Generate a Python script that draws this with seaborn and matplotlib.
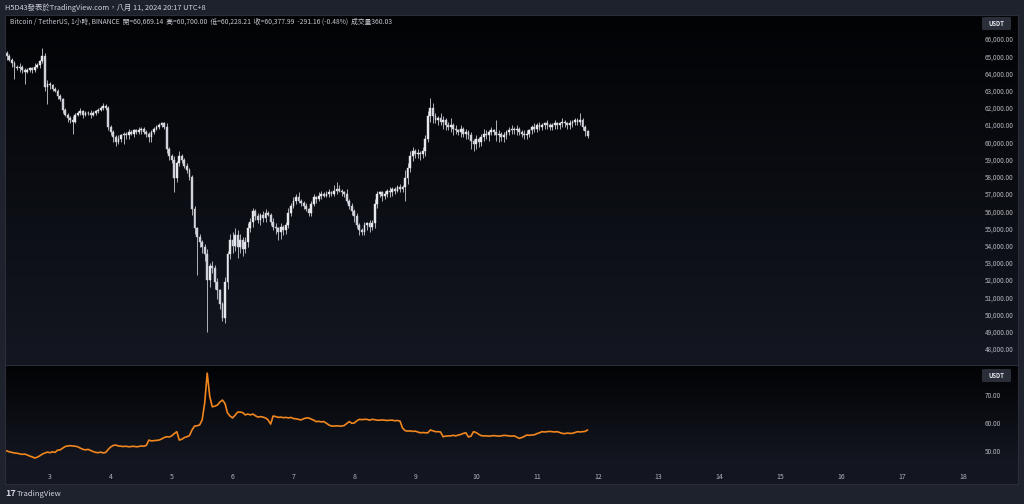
import numpy as np
import pandas as pd
import matplotlib
matplotlib.use("Agg")
import matplotlib.pyplot as plt
import matplotlib.dates as mdates
from matplotlib.patches import FancyBboxPatch, Rectangle
import seaborn as sns

# ---------------- data ----------------
start_time = "2024-08-02 06:00"
first_open_k = 65.3
# hourly closes, in thousands of USDT
close_k = [
    65.2, 65.0, 64.8, 64.6, 64.4, 64.3, 64.4, 64.2, 64.1, 64.2,
    64.3, 64.2, 64.4, 64.5, 64.7, 65.0, 63.2, 63.4, 63.3, 63.1,
    63.0, 62.7, 62.5, 61.9, 61.6, 61.4, 61.3, 61.2, 61.6, 61.7,
    61.8, 61.6, 61.7, 61.7, 61.6, 61.7, 61.8, 61.9, 62.0, 62.1,
    62.0, 60.9, 60.6, 60.3, 60.0, 60.2, 60.4, 60.5, 60.4, 60.6,
    60.5, 60.7, 60.6, 60.7, 60.8, 60.6, 60.5, 60.3, 60.6, 60.8,
    60.9, 61.0, 61.1, 60.9, 59.6, 59.2, 59.0, 57.9, 58.8, 59.2,
    59.0, 58.6, 58.4, 58.0, 56.1, 55.0, 54.5, 54.2, 53.9, 53.5,
    52.0, 52.8, 52.7, 51.9, 51.4, 50.6, 49.8, 51.9, 53.5, 54.3,
    54.0, 54.6, 53.9, 54.3, 53.8, 54.2, 55.0, 55.4, 56.0, 55.7,
    55.5, 55.8, 55.6, 55.9, 55.8, 55.4, 55.1, 55.0, 54.8, 55.1,
    54.9, 55.2, 55.9, 56.3, 56.6, 56.8, 56.6, 56.5, 56.3, 56.1,
    55.9, 56.4, 56.8, 56.7, 56.9, 57.0, 56.9, 57.0, 57.1, 57.0,
    57.2, 57.3, 57.2, 57.1, 57.0, 56.6, 56.3, 56.0, 55.7, 55.2,
    54.9, 54.8, 55.2, 55.3, 55.1, 55.3, 56.4, 57.0, 57.1, 56.9,
    57.0, 57.2, 57.1, 57.3, 57.2, 57.4, 57.3, 57.4, 57.9, 58.5,
    59.2, 59.5, 59.3, 59.4, 59.3, 59.5, 60.2, 61.5, 62.0, 61.5,
    61.3, 61.4, 61.2, 61.3, 61.0, 60.9, 61.0, 60.8, 60.7, 60.6,
    60.8, 60.5, 60.6, 60.4, 60.1, 59.9, 60.2, 60.0, 60.3, 60.5,
    60.4, 60.6, 60.7, 60.6, 60.4, 60.5, 60.3, 60.4, 60.6, 60.7,
    60.8, 60.7, 60.8, 60.6, 60.5, 60.4, 60.5, 60.7, 60.9, 60.8,
    61.0, 60.9, 61.0, 61.1, 61.0, 60.9, 61.0, 61.1, 61.0, 61.1,
    61.2, 61.1, 61.0, 61.1, 61.2, 61.3, 61.2, 61.3, 60.9, 60.66914,
    60.37799,
]
# wick lengths above / below the candle body, in hundreds of USDT
wick_up_h = [
    2, 1, 1, 1, 1, 1, 2, 1, 1, 1,
    1, 1, 2, 1, 1, 5, 2, 2, 1, 1,
    1, 1, 1, 1, 1, 1, 1, 2, 1, 1,
    2, 1, 1, 1, 2, 1, 1, 1, 1, 2,
    1, 1, 1, 1, 1, 2, 1, 1, 1, 2,
    1, 1, 1, 2, 1, 1, 1, 1, 1, 1,
    1, 1, 1, 1, 2, 1, 1, 2, 1, 3,
    1, 1, 2, 1, 1, 2, 1, 2, 1, 2,
    3, 2, 3, 2, 2, 1, 1, 3, 2, 4,
    5, 4, 3, 4, 2, 3, 3, 2, 2, 1,
    2, 1, 2, 2, 1, 1, 2, 2, 1, 2,
    1, 2, 3, 2, 2, 2, 3, 1, 1, 2,
    1, 2, 2, 1, 2, 2, 1, 2, 2, 1,
    3, 4, 2, 1, 1, 3, 1, 2, 1, 2,
    1, 1, 2, 1, 2, 2, 3, 2, 1, 1,
    2, 1, 2, 1, 1, 1, 2, 1, 5, 3,
    3, 2, 1, 2, 1, 2, 2, 3, 6, 3,
    2, 1, 3, 2, 1, 2, 4, 1, 2, 1,
    2, 1, 2, 1, 2, 1, 2, 1, 2, 3,
    2, 1, 2, 1, 7, 2, 1, 2, 1, 2,
    2, 1, 2, 1, 1, 2, 2, 1, 1, 2,
    1, 2, 1, 1, 2, 1, 1, 2, 1, 1,
    2, 1, 1, 2, 1, 1, 1, 4, 1, 1,
    0.31,
]
wick_dn_h = [
    1, 2, 1, 2, 7, 1, 2, 2, 7, 1,
    1, 2, 1, 1, 2, 1, 2, 10, 2, 1,
    1, 2, 1, 2, 1, 2, 2, 7, 1, 1,
    1, 2, 1, 1, 2, 1, 1, 1, 1, 1,
    1, 2, 2, 3, 2, 1, 2, 5, 2, 2,
    1, 2, 1, 1, 2, 1, 2, 3, 3, 1,
    1, 1, 1, 1, 2, 2, 2, 8, 2, 2,
    2, 1, 2, 2, 3, 3, 22, 3, 3, 4,
    30, 4, 3, 4, 5, 3, 2, 3, 4, 3,
    4, 3, 6, 3, 4, 2, 3, 2, 3, 2,
    2, 3, 2, 2, 1, 2, 2, 3, 5, 4,
    3, 2, 2, 2, 1, 2, 1, 2, 2, 1,
    2, 2, 1, 2, 1, 2, 1, 1, 2, 1,
    1, 2, 1, 2, 2, 1, 2, 2, 3, 2,
    3, 2, 2, 3, 3, 2, 3, 2, 2, 3,
    2, 2, 3, 2, 2, 1, 2, 2, 8, 3,
    2, 3, 2, 2, 3, 2, 3, 2, 3, 4,
    2, 3, 2, 4, 3, 2, 3, 4, 2, 2,
    3, 2, 3, 2, 5, 4, 3, 3, 2, 2,
    2, 3, 2, 2, 3, 4, 2, 3, 2, 2,
    2, 2, 3, 2, 2, 2, 2, 2, 2, 2,
    2, 2, 2, 2, 2, 2, 2, 2, 2, 2,
    2, 2, 2, 2, 2, 2, 2, 2, 2, 3,
    1.5,
]
# lower pane indicator (orange line)
indicator = [
    50.4, 50.0, 49.7, 49.5, 49.3, 49.2, 49.0, 48.8, 48.9, 48.6,
    48.2, 47.9, 47.5, 47.8, 48.3, 48.9, 49.3, 49.6, 49.4, 49.7,
    49.5, 50.3, 50.4, 51.0, 51.6, 51.8, 51.9, 51.8, 51.7, 51.5,
    51.0, 50.6, 50.4, 50.6, 50.2, 49.8, 49.5, 49.4, 49.6, 49.3,
    49.5, 50.6, 51.5, 52.0, 52.1, 51.8, 51.7, 51.6, 51.7, 51.5,
    51.6, 51.7, 51.5, 51.6, 51.8, 51.7, 52.0, 53.9, 53.6, 53.7,
    53.8, 53.9, 54.3, 54.8, 55.1, 55.0, 55.4, 56.2, 56.9, 53.9,
    54.2, 54.8, 55.1, 55.5, 57.5, 58.9, 59.0, 59.3, 61.1, 67.1,
    77.8, 69.5, 65.8, 66.0, 66.4, 67.5, 68.2, 67.0, 63.6, 62.5,
    61.8, 62.8, 63.9, 63.9, 63.7, 62.9, 63.2, 62.9, 63.2, 62.6,
    62.1, 62.3, 62.1, 61.8, 61.1, 59.6, 62.5, 62.3, 62.0, 62.1,
    61.9, 62.0, 61.8, 62.0, 61.6, 61.5, 61.3, 61.1, 61.5, 61.8,
    61.8, 61.4, 61.0, 60.5, 60.6, 60.4, 60.5, 59.9, 59.3, 58.9,
    58.9, 59.0, 58.9, 58.9, 59.1, 59.8, 60.5, 59.9, 60.0, 60.8,
    61.3, 61.2, 61.3, 61.3, 61.0, 61.3, 61.2, 61.0, 61.0, 61.1,
    61.0, 60.9, 61.0, 61.0, 60.8, 60.9, 60.7, 58.2, 57.3, 57.1,
    57.2, 57.0, 57.1, 56.8, 56.5, 56.6, 56.5, 56.5, 57.5, 57.2,
    56.9, 56.9, 56.8, 55.1, 55.3, 55.4, 55.4, 55.6, 55.4, 55.7,
    55.9, 56.3, 56.5, 55.0, 55.3, 56.9, 56.6, 56.0, 55.5, 55.4,
    55.4, 55.3, 55.4, 55.5, 55.4, 55.3, 55.4, 55.6, 55.5, 55.4,
    55.3, 55.4, 55.0, 54.5, 54.8, 55.2, 55.7, 55.6, 55.7, 55.8,
    56.2, 56.5, 56.9, 56.8, 56.9, 57.0, 56.9, 56.8, 56.9, 56.6,
    56.3, 56.2, 56.4, 56.3, 56.3, 56.6, 56.9, 56.8, 56.9, 57.0,
    57.5,
]
price_ticks = list(range(48000, 66001, 1000))
ind_ticks = [50, 60, 70]
day_ticks = list(range(3, 19))
header = "H5D43發表於TradingView.com，八月 11, 2024 20:17 UTC+8"
legend = ("Bitcoin / TetherUS, 1小時, BINANCE  開=60,669.14  高=60,700.00  "
          "低=60,228.21  收=60,377.99  -291.16 (-0.48%)  成交量360.03")

# ---------------- derived OHLC ----------------
close = np.array(close_k) * 1000.0
opens = np.concatenate([[first_open_k * 1000.0], close[:-1]])
high = np.maximum(opens, close) + np.array(wick_up_h) * 100.0
low = np.minimum(opens, close) - np.array(wick_dn_h) * 100.0
times = pd.date_range(start_time, periods=len(close), freq="h")
xs = mdates.date2num(times)

# ---------------- style ----------------
sns.set_theme(style="dark")
plt.rcParams['font.family'] = ['Noto Sans CJK TC', 'DejaVu Sans']
W, H = 1024, 504
OUTER = (30/255, 34/255, 45/255)
TXT = "#b2b5be"

fig = plt.figure(figsize=(W/100, H/100), dpi=100)
fig.patch.set_facecolor(OUTER)

def fx(px):
    return px / W

def fy(py):
    return 1 - py / H

# background gradient image
bg = np.zeros((H, W, 3))
bg[:, :] = OUTER
top_c = np.array([2, 3, 5]) / 255
bot_c = np.array([20, 23, 33]) / 255
r0, r1 = 15, 365
t = np.linspace(0, 1, r1 - r0)[:, None]
bg[r0:r1, 5:1018] = (top_c + (bot_c - top_c) * t)[:, None, :]
r0, r1 = 366, 465
t = np.linspace(0, 1, r1 - r0)[:, None]
bg[r0:r1, 5:1018] = (top_c + (bot_c - top_c) * t)[:, None, :]
bg[465:484, 5:1018] = np.array([19, 22, 32]) / 255
bg[365, 5:1018] = np.array([42, 46, 57]) / 255
bga = fig.add_axes([0, 0, 1, 1], zorder=-10)
bga.imshow(bg, aspect="auto", extent=[0, 1, 0, 1], interpolation="nearest")
bga.axis("off")

xmin = mdates.date2num(pd.Timestamp("2024-08-02 06:16"))
xmax = mdates.date2num(pd.Timestamp("2024-08-18 04:44"))

# ---------------- main (price) pane ----------------
ax = fig.add_axes([fx(5), fy(365), fx(975) - fx(5), fy(15) - fy(365)])
ax.set_facecolor("none")
for s in ax.spines.values():
    s.set_visible(False)
ax.grid(False)
body_bot = np.minimum(opens, close)
body_h = np.maximum(np.abs(close - opens), 18.0)
up = close >= opens
ax.vlines(xs, low, high, color="#c8cbd3", lw=0.6, zorder=2)
ax.bar(xs[up], body_h[up], bottom=body_bot[up], width=0.72/24,
       color="#e6e8ee", edgecolor="#e6e8ee", lw=0.3, zorder=3)
ax.bar(xs[~up], body_h[~up], bottom=body_bot[~up], width=0.72/24,
       color="#cfd2da", edgecolor="#cfd2da", lw=0.3, zorder=3)
ax.set_xlim(xmin, xmax)
ax.set_ylim(47070, 67390)
ax.set_xticks([])
ax.yaxis.tick_right()
ax.set_yticks(price_ticks)
ax.set_yticklabels([f"{v:,.2f}" for v in price_ticks])
ax.tick_params(axis="y", length=0, pad=7, labelsize=4.6, labelcolor=TXT)

# ---------------- lower pane ----------------
ax2 = fig.add_axes([fx(5), fy(465), fx(975) - fx(5), fy(366) - fy(465)])
ax2.set_facecolor("none")
for s in ax2.spines.values():
    s.set_visible(False)
ax2.grid(False)
sns.lineplot(x=xs, y=indicator, ax=ax2, color="#f0861d", lw=1.2)
ax2.set_xlim(xmin, xmax)
ax2.set_ylim(45.0, 80.36)
ax2.yaxis.tick_right()
ax2.set_yticks(ind_ticks)
ax2.set_yticklabels([f"{v:.2f}" for v in ind_ticks])
ax2.tick_params(axis="y", length=0, pad=7, labelsize=4.6, labelcolor=TXT)
ax2.set_xticks([mdates.date2num(pd.Timestamp(2024, 8, d)) for d in day_ticks])
ax2.set_xticklabels([str(d) for d in day_ticks])
ax2.tick_params(axis="x", length=0, pad=6, labelsize=5, labelcolor=TXT)

# ---------------- texts & decorations ----------------
fig.text(fx(5), fy(7.5), header, fontsize=5.3, color="#d1d4dc", va="center", ha="left")
fig.text(fx(10), fy(22), legend, fontsize=4.85, color="#c4c7cf", va="center", ha="left")

for ytop in (17, 369):
    box = FancyBboxPatch((fx(982), fy(ytop + 13)), fx(29), 13 / H,
                         boxstyle="round,pad=0,rounding_size=0.002",
                         transform=fig.transFigure, facecolor="#2a2e39",
                         edgecolor="none", zorder=5)
    fig.patches.append(box)
    fig.text(fx(996.5), fy(ytop + 6.5), "USDT", fontsize=4.3, color="#e0e3eb",
             weight="bold", ha="center", va="center", zorder=6)

fig.patches.append(Rectangle((fx(5), fy(484)), fx(1013), (484 - 15) / H,
                             transform=fig.transFigure, fill=False,
                             edgecolor="#2a2e39", lw=0.8, zorder=4))

fig.text(fx(5), fy(494), "17", fontsize=6.5, color="#d1d4dc", weight="bold",
         va="center", ha="left")
fig.text(fx(17), fy(494), "TradingView", fontsize=5.5, color="#d1d4dc",
         va="center", ha="left")

fig.savefig("out.png", dpi=100, facecolor=fig.get_facecolor())
